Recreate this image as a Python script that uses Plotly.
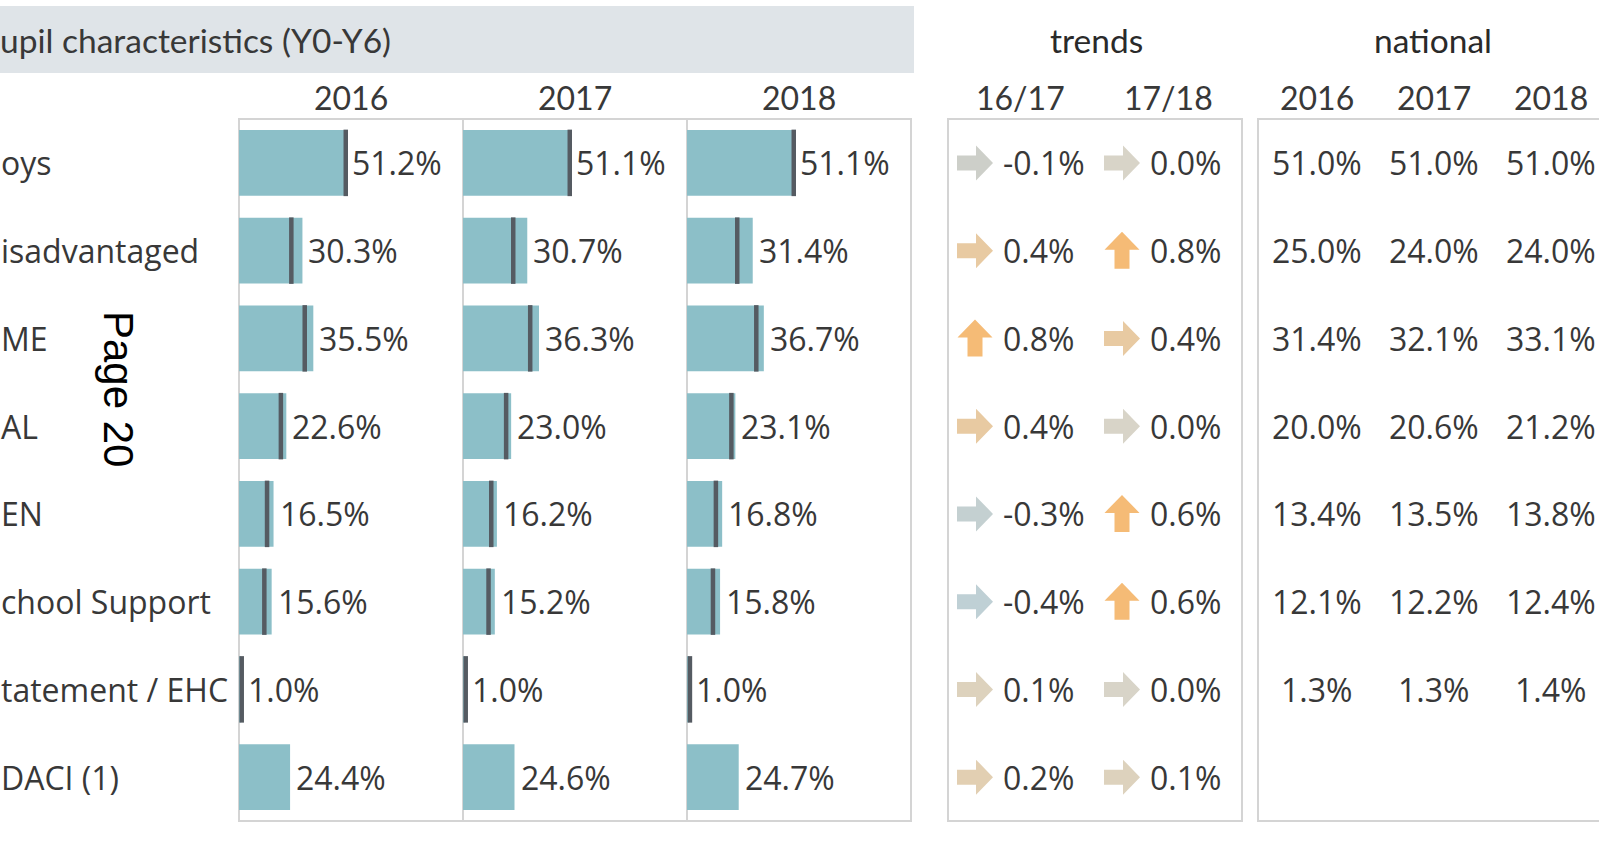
import plotly.graph_objects as go

# ---------------- data ----------------
row_labels = ["oys", "isadvantaged", "ME", "AL", "EN", "chool Support", "tatement / EHC", "DACI (1)"]
title_text = "upil characteristics (Y0-Y6)"
years = ["2016", "2017", "2018"]
vals_2016 = [51.2, 30.3, 35.5, 22.6, 16.5, 15.6, 1.0, 24.4]
vals_2017 = [51.1, 30.7, 36.3, 23.0, 16.2, 15.2, 1.0, 24.6]
vals_2018 = [51.1, 31.4, 36.7, 23.1, 16.8, 15.8, 1.0, 24.7]
nat_2016 = [51.0, 25.0, 31.4, 20.0, 13.4, 12.1, 1.3, None]
nat_2017 = [51.0, 24.0, 32.1, 20.6, 13.5, 12.2, 1.3, None]
nat_2018 = [51.0, 24.0, 33.1, 21.2, 13.8, 12.4, 1.4, None]
trend_periods = ["16/17", "17/18"]
trend_1617 = [-0.1, 0.4, 0.8, 0.4, -0.3, -0.4, 0.1, 0.2]
trend_1718 = [0.0, 0.8, 0.4, 0.0, 0.6, 0.6, 0.0, 0.1]
section_trends = "trends"
section_national = "national"
page_label = "Page 20"

# ---------------- layout helpers ----------------
W, H = 1599, 841
def fx(px):
    return px / W
def fy(py):
    return 1 - py / H

BAR_COLOR = "#8cbfc8"
REF_COLOR = "#555b62"
TEXT_COLOR = "#383838"
BORDER = "#d4d4d4"
BODY_FONT = "Open Sans"
HEAD_FONT = "Lato"
BODY_SIZE = 32
SECTION_SIZE = 33.5

rows = list(range(len(row_labels)))
vals = [vals_2016, vals_2017, vals_2018]
nats = [nat_2016, nat_2017, nat_2018]
trends = [trend_1617, trend_1718]

TOP, BOT = 119, 821
panel_edges = [239, 463, 687, 911]
TR_L, TR_R = 948, 1242
NA_L = 1258
TR_STEP = 147
NA_STEP = 117
TR_ARROW0 = 975  # pixel of first arrow centre

fig = go.Figure()
annotations = []
shapes = []

xa_names = ["x", "x2", "x3"]
layout_axes = {}
for i in range(3):
    key = "xaxis" if i == 0 else f"xaxis{i+1}"
    layout_axes[key] = dict(domain=[fx(panel_edges[i]), fx(panel_edges[i + 1])],
                            range=[0, 107], visible=False, anchor="y", fixedrange=True)
    fig.add_trace(go.Bar(x=vals[i], y=rows, orientation="h", width=0.752,
                         marker=dict(color=BAR_COLOR, line=dict(width=0)),
                         xaxis=xa_names[i], yaxis="y", hoverinfo="skip", showlegend=False))
    nx = [n for n in nats[i] if n is not None]
    ny = [r for r, n in zip(rows, nats[i]) if n is not None]
    fig.add_trace(go.Scatter(x=nx, y=ny, mode="markers",
                             marker=dict(symbol="line-ns", size=47.5,
                                         line=dict(width=4.5, color=REF_COLOR)),
                             xaxis=xa_names[i], yaxis="y", hoverinfo="skip", showlegend=False))
    for r, v, n in zip(rows, vals[i], nats[i]):
        anchor = max(v, n if n is not None else 0)
        annotations.append(dict(x=anchor, y=r, xref=xa_names[i], yref="y", text=f"{v:.1f}%",
                                showarrow=False, xanchor="left", yanchor="middle", xshift=4,
                                font=dict(family=BODY_FONT, size=BODY_SIZE, color=TEXT_COLOR)))
    # year header
    annotations.append(dict(x=0.5, y=fy(98), xref=f"{xa_names[i]} domain", yref="paper",
                            text=years[i], showarrow=False, xanchor="center", yanchor="middle",
                            font=dict(family=HEAD_FONT, size=32, color=TEXT_COLOR)))

# trends axis
tr_lo = -(TR_ARROW0 - TR_L) / TR_STEP
layout_axes["xaxis4"] = dict(domain=[fx(TR_L), fx(TR_R)], range=[tr_lo, tr_lo + (TR_R - TR_L) / TR_STEP],
                             visible=False, anchor="y", fixedrange=True)
# national axis
layout_axes["xaxis5"] = dict(domain=[fx(NA_L), 1], range=[-0.5, -0.5 + (W - NA_L) / NA_STEP],
                             visible=False, anchor="y", fixedrange=True)

# invisible anchor traces so the trends / national axes exist
fig.add_trace(go.Scatter(x=[0, 1], y=[0, 0], mode="markers", marker=dict(opacity=0),
                         xaxis="x4", yaxis="y", hoverinfo="skip", showlegend=False))
fig.add_trace(go.Scatter(x=[0, 1], y=[0, 0], mode="markers", marker=dict(opacity=0),
                         xaxis="x5", yaxis="y", hoverinfo="skip", showlegend=False))

def trend_color(v):
    if v >= 0.5:
        return "#f5bb76"
    stops = [(-0.4, (191, 208, 213)), (-0.1, (205, 207, 201)), (0.0, (216, 212, 200)),
             (0.2, (226, 207, 178)), (0.4, (232, 202, 162))]
    if v <= stops[0][0]:
        c = stops[0][1]
    elif v >= stops[-1][0]:
        c = stops[-1][1]
    else:
        for (a, ca), (b, cb) in zip(stops[:-1], stops[1:]):
            if a <= v <= b:
                t = (v - a) / (b - a)
                c = tuple(round(ca[k] + (cb[k] - ca[k]) * t) for k in range(3))
                break
    return "rgb(%d,%d,%d)" % c

RIGHT_ARROW = "M-18,-7.5 L1,-7.5 L1,-17.5 L18,0 L1,17.5 L1,7.5 L-18,7.5 Z"
UP_ARROW = "M-7.5,-18 L7.5,-18 L7.5,1 L17.5,1 L0,19 L-17.5,1 L-7.5,1 Z"

for c, series in enumerate(trends):
    for r, t in zip(rows, series):
        shapes.append(dict(type="path", xref="x4", yref="y", xsizemode="pixel", ysizemode="pixel",
                           xanchor=c, yanchor=r, path=UP_ARROW if t >= 0.5 else RIGHT_ARROW,
                           fillcolor=trend_color(t), line=dict(width=0), layer="above"))
        annotations.append(dict(x=c, y=r, xref="x4", yref="y", text=f"{t:.1f}%", showarrow=False,
                                xanchor="left", yanchor="middle", xshift=26,
                                font=dict(family=BODY_FONT, size=BODY_SIZE, color=TEXT_COLOR)))
    annotations.append(dict(x=c, y=fy(98), xref="x4", yref="paper", text=trend_periods[c],
                            showarrow=False, xanchor="center", yanchor="middle", xshift=46,
                            font=dict(family=HEAD_FONT, size=32, color=TEXT_COLOR)))

# national values
for c in range(3):
    for r, n in zip(rows, nats[c]):
        if n is None:
            continue
        annotations.append(dict(x=c, y=r, xref="x5", yref="y", text=f"{n:.1f}%", showarrow=False,
                                xanchor="center", yanchor="middle",
                                font=dict(family=BODY_FONT, size=BODY_SIZE, color=TEXT_COLOR)))
    annotations.append(dict(x=c, y=fy(98), xref="x5", yref="paper", text=years[c],
                            showarrow=False, xanchor="center", yanchor="middle",
                            font=dict(family=HEAD_FONT, size=32, color=TEXT_COLOR)))

# row labels
for r, lab in zip(rows, row_labels):
    annotations.append(dict(x=0, y=r, xref="paper", yref="y", text=lab, showarrow=False,
                            xanchor="left", yanchor="middle", xshift=-1,
                            font=dict(family=BODY_FONT, size=BODY_SIZE, color=TEXT_COLOR)))

# header band + section titles
shapes.append(dict(type="rect", xref="paper", yref="paper", x0=0, x1=fx(914), y0=fy(73), y1=fy(6),
                   fillcolor="#dfe4e8", line=dict(width=0), layer="below"))
annotations.append(dict(x=0, y=fy(40), xref="paper", yref="paper", text=title_text, showarrow=False,
                        xanchor="left", yanchor="middle", xshift=-2,
                        font=dict(family=HEAD_FONT, size=SECTION_SIZE, color=TEXT_COLOR)))
annotations.append(dict(x=fx(1096), y=fy(40), xref="paper", yref="paper", text=section_trends,
                        showarrow=False, xanchor="center", yanchor="middle",
                        font=dict(family=HEAD_FONT, size=SECTION_SIZE, color="#2a2a2a")))
annotations.append(dict(x=fx(1433), y=fy(40), xref="paper", yref="paper", text=section_national,
                        showarrow=False, xanchor="center", yanchor="middle",
                        font=dict(family=HEAD_FONT, size=SECTION_SIZE, color="#2a2a2a")))

# panel borders
def box(x0, x1):
    shapes.append(dict(type="rect", xref="paper", yref="paper", x0=fx(x0), x1=fx(x1),
                       y0=fy(BOT), y1=fy(TOP), line=dict(color=BORDER, width=2),
                       fillcolor="rgba(0,0,0,0)", layer="below"))
box(panel_edges[0], panel_edges[3])
for e in panel_edges[1:3]:
    shapes.append(dict(type="line", xref="paper", yref="paper", x0=fx(e), x1=fx(e),
                       y0=fy(BOT), y1=fy(TOP), line=dict(color=BORDER, width=2), layer="below"))
box(TR_L, TR_R)
box(NA_L, W + 20)

# page stamp
annotations.append(dict(x=fx(119), y=fy(389), xref="paper", yref="paper", text=page_label,
                        showarrow=False, textangle=90, xanchor="center", yanchor="middle",
                        font=dict(family="Liberation Sans", size=42, color="#000000")))

fig.update_layout(
    width=W, height=H, margin=dict(l=0, r=0, t=0, b=0),
    paper_bgcolor="white", plot_bgcolor="white", showlegend=False,
    yaxis=dict(domain=[fy(BOT), fy(TOP)], range=[7.5, -0.5], visible=False, fixedrange=True, anchor="x"),
    annotations=annotations, shapes=shapes, **layout_axes,
)

fig.write_html("out.html", config={"displayModeBar": False},
               post_script="document.body.style.margin='0';document.body.style.overflow='hidden';")
